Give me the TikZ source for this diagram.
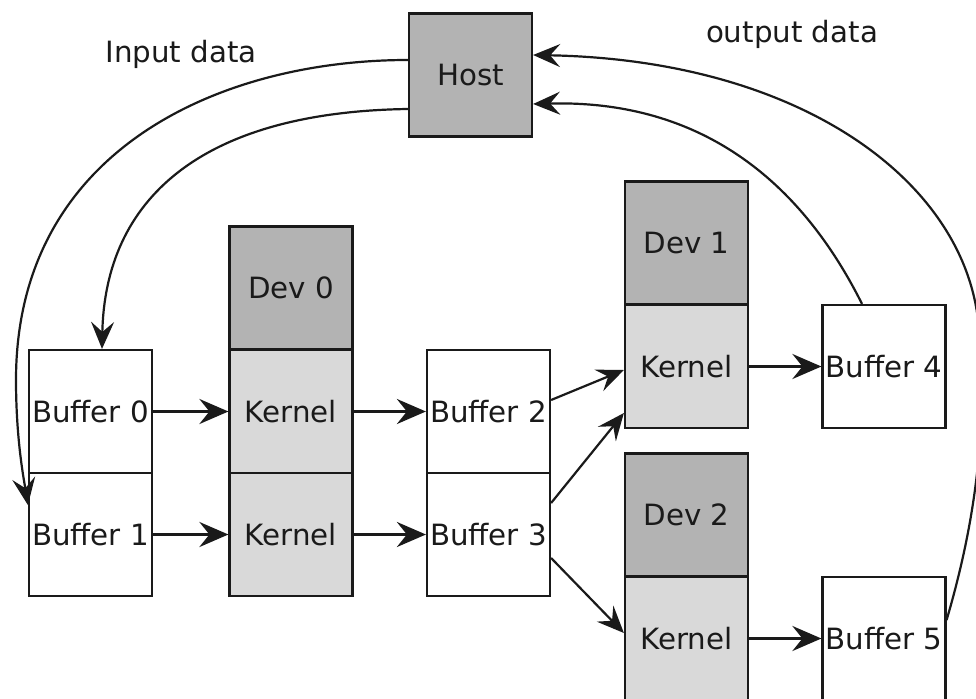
\documentclass[tikz,border=0pt]{standalone}
\usepackage{fontspec}
\setmainfont{DejaVu Sans}
\usetikzlibrary{arrows.meta}
\definecolor{ink}{HTML}{1A1A1A}
\definecolor{devgray}{HTML}{B3B3B3}
\definecolor{kergray}{HTML}{D9D9D9}
\begin{document}
\begin{tikzpicture}[x=1pt,y=-1pt,
  box/.style={draw=ink, line width=2.2pt, minimum width=123pt, minimum height=123pt,
              inner sep=0pt, font=\fontsize{29.3}{35}\selectfont, text=ink},
  buf/.style={box, fill=white},
  dev/.style={box, fill=devgray},
  ker/.style={box, fill=kergray},
  flow/.style={draw=ink, line width=3pt, -{Stealth[length=29pt,width=25pt,inset=10pt]}},
  link/.style={draw=ink, line width=2.2pt, -{Stealth[length=27pt,width=23pt,inset=10pt]}},
  lbl/.style={font=\fontsize{29.3}{35}\selectfont, text=ink, inner sep=0pt, anchor=base}]
\useasboundingbox (0,0) rectangle (976,698);
\begin{scope}
\clip (0,0) rectangle (976,698);
% nodes
\node[dev] (host) at (470.5,75) {Host};
\node[dev] (dev0) at (291,288) {Dev 0};
\node[ker] (ker0a) at (291,411.5) {Kernel};
\node[ker] (ker0b) at (291,534.5) {Kernel};
\node[buf] (buf0) at (90.5,411.5) {Buffer 0};
\node[buf] (buf1) at (90.5,534.5) {Buffer 1};
\node[buf] (buf2) at (488.5,411.5) {Buffer 2};
\node[buf] (buf3) at (488.5,534.5) {Buffer 3};
\node[dev] (dev1) at (686.5,243) {Dev 1};
\node[ker] (ker1) at (686.5,366.5) {Kernel};
\node[buf] (buf4) at (884,366.5) {Buffer 4};
\node[dev] (dev2) at (686.5,515) {Dev 2};
\node[ker] (ker2) at (686.5,638.5) {Kernel};
\node[buf] (buf5) at (884,638.5) {Buffer 5};
% labels
\node[lbl] (inlbl) at (181,63) {Input data};
\node[lbl] (outlbl) at (792,43) {output data};
% straight flows
\draw[flow] (buf0) -- (ker0a);
\draw[flow] (buf1) -- (ker0b);
\draw[flow] (ker0a) -- (buf2);
\draw[flow] (ker0b) -- (buf3);
\draw[flow] (ker1) -- (buf4);
\draw[flow] (ker2) -- (buf5);
% diagonal links
\draw[link] ([yshift=11.5pt]buf2.east) -- ([yshift=-3.5pt]ker1.west);
\draw[link] ([yshift=31.5pt]buf3.east) -- ([yshift=-46.5pt]ker1.west);
\draw[link] ([yshift=-23.5pt]buf3.east) -- ([yshift=5.5pt]ker2.west);
% input curves
\draw[link] ([yshift=15pt]host.west) .. controls (220,60) and (16,150) .. (16,380)
            .. controls (16,440) and (24,480) .. ([yshift=29.5pt]buf1.west);
\draw[link] ([yshift=-34pt]host.west) .. controls (200,112) and (105,200) .. ([xshift=11.5pt]buf0.north);
% output curves
\draw[link] ([xshift=-22pt]buf4.north) .. controls (790,160) and (680,100) .. ([yshift=-29pt]host.east);
\draw[link] ([yshift=18.5pt]buf5.east) .. controls (970,540) and (990,440) .. (978,320)
            .. controls (962,180) and (800,60) .. ([yshift=20pt]host.east);
\end{scope}
\end{tikzpicture}
\end{document}
